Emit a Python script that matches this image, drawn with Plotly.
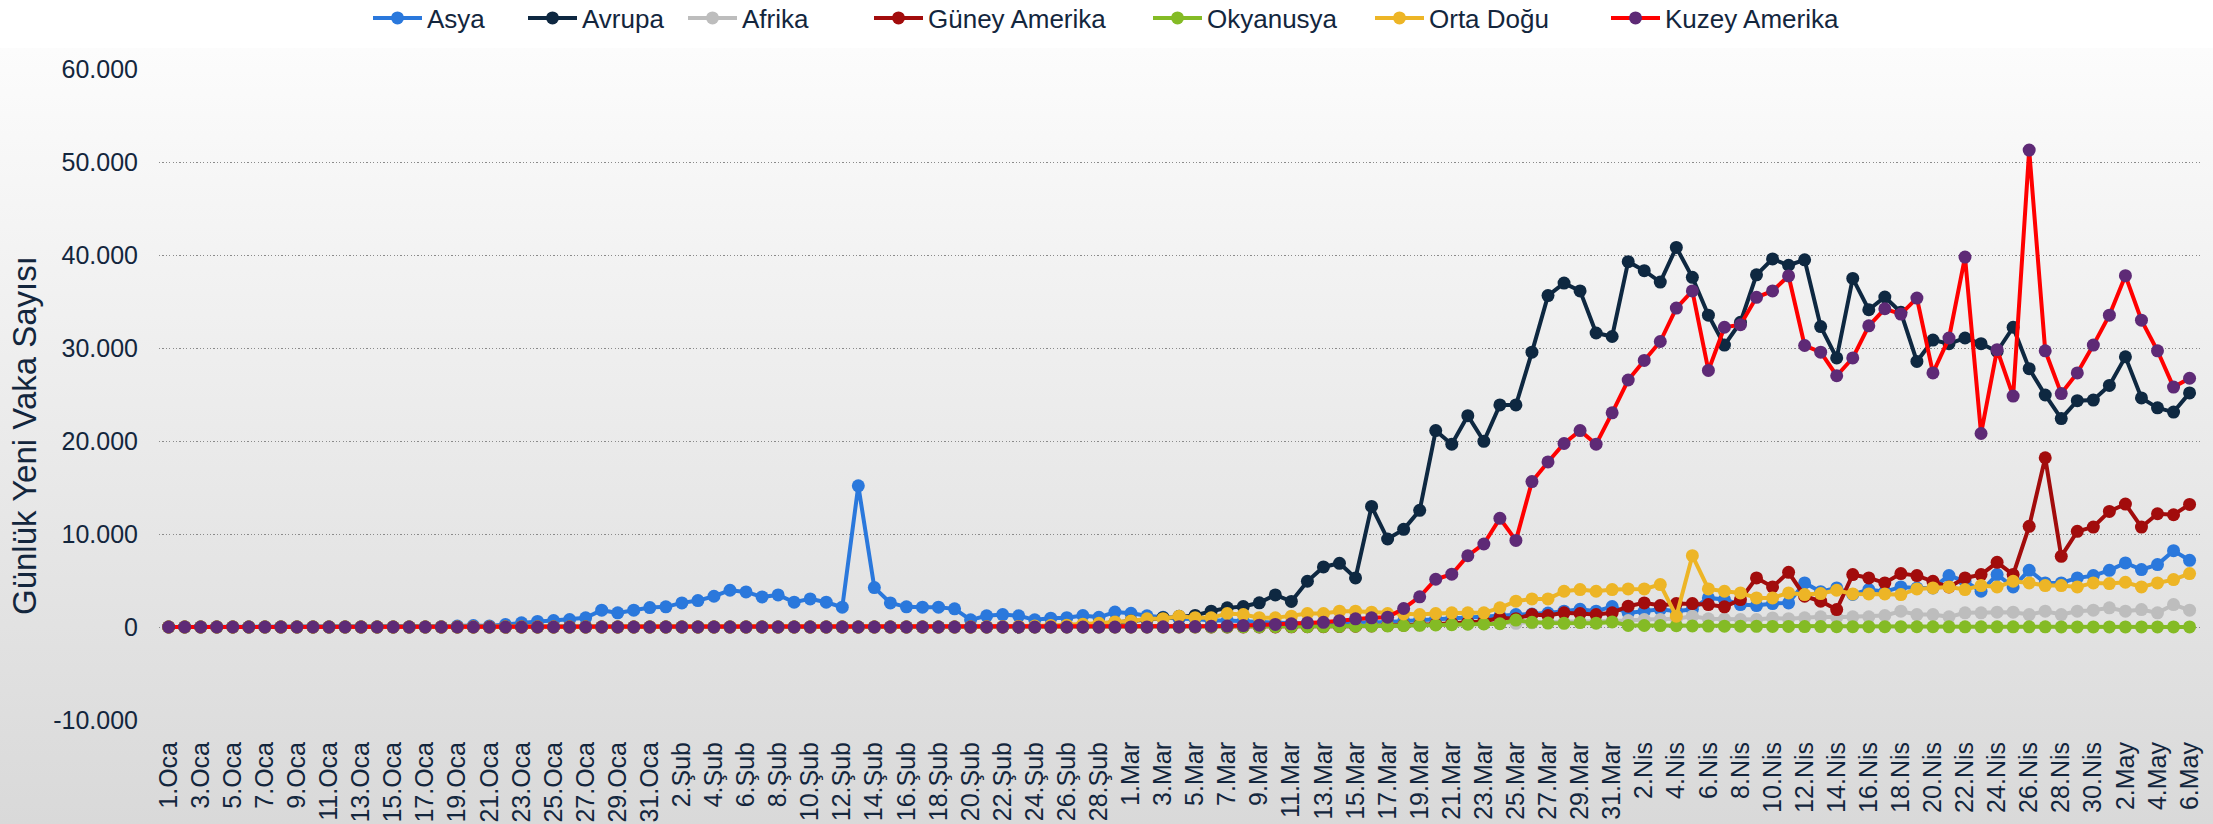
import base64
import plotly.graph_objects as go

# ---- categories (dates 1 Jan - 6 May) ----
month_names = ["Oca", "Şub", "Mar", "Nis", "May"]
month_days = [31, 29, 31, 30, 6]
dates = []
for m, n in zip(month_names, month_days):
    for d in range(1, n + 1):
        dates.append(f"{d}.{m}")

# ---- series (daily new cases) ----
asya = [0]*17 + [20, 100, 150, 120, 260, 450, 600, 700,
        805, 983, 1806, 1520, 1806, 2092, 2164, 2593, 2843, 3308, 3952, 3773, 3237, 3451, 2664, 3022, 2664, 2128,
        15184, 4239, 2593, 2164, 2128, 2128, 1950, 770, 1200, 1341, 1200, 770, 950, 1000, 1234, 1040, 1600, 1480,
        1200, 1040, 900, 850, 700, 700, 600, 500, 450, 400, 400, 400, 450, 450, 500, 550, 650, 750, 850, 900, 950,
        1100, 1200, 1341, 1400, 1500, 1700, 1900, 1700, 2200, 1500, 1700, 1900, 1700, 1900, 3130, 2951, 2414, 2307,
        2522, 2593, 4740, 3800, 4203, 3500, 4024, 3800, 4310, 4200, 4200, 5526, 4918, 3845, 5634, 4310, 6099, 4740,
        4740, 5276, 5526, 6099, 6886, 6170, 6707, 8208, 7170]

avrupa = [0]*54 + [20, 50, 100, 200, 350, 500, 650, 800, 1000, 1150, 1250, 1699, 2057, 2200, 2600, 3450, 2750,
          4918, 6456, 6850, 5276, 12966, 9461, 10500, 12550, 21117, 19657, 22726, 19969, 23874, 23874, 29550, 35634,
          36976, 36139, 31611, 31235, 39283, 38317, 37094, 40817, 37598, 33531, 30312, 32769, 37866, 39583, 38896,
          39476, 32308, 28928, 37480, 34111, 35484, 33842, 28553, 30849, 30462, 31074, 30462, 29626, 32233, 27780,
          24947, 22415, 24336, 24400, 25977, 29046, 24636, 23563, 23112, 25173]

afrika = [0]*61 + [5, 5, 10, 10, 15, 20, 25, 30, 40, 50, 60, 80, 90, 120, 150, 180, 200, 250, 280, 300, 330, 350,
          380, 400, 450, 480, 500, 550, 600, 650, 700, 800, 800, 900, 1160, 880, 850, 800, 800, 980, 900, 984, 1091,
          1050, 1091, 1091, 1234, 1699, 1341, 1341, 1091, 1520, 1520, 1592, 1592, 1341, 1699, 1341, 1699, 1806, 2057,
          1699, 1878, 1520, 2414, 1806]

guney_amerika = [0]*70 + [20, 30, 40, 60, 80, 120, 150, 200, 250, 300, 400, 500, 600, 1000, 900, 1341, 1234, 1520,
                 1449, 1341, 1520, 2236, 2593, 2307, 2522, 2522, 2414, 2164, 2951, 5276, 4310, 5884, 3309, 2772, 1878,
                 5634, 5276, 4740, 5741, 5526, 4918, 4300, 5276, 5634, 6957, 5634, 10820, 18198, 7601, 10284, 10749,
                 12430, 13219, 10749, 12180, 12072, 13181]

okyanusya = [0]*61 + [2, 3, 5, 5, 8, 10, 15, 20, 25, 30, 40, 50, 60, 80, 100, 120, 150, 180, 220, 250, 300, 320,
             350, 750, 500, 420, 400, 480, 410, 550, 170, 160, 150, 140, 120, 100, 90, 80, 70, 60, 60, 50, 50, 40, 40,
             30, 30, 30, 25, 25, 20, 20, 20, 20, 15, 15, 15, 10, 10, 10, 10, 10, 10, 10, 10, 10]

orta_dogu = [0]*50 + [10, 20, 40, 60, 100, 150, 200, 300, 400, 550, 650, 876, 900, 1163, 1000, 984, 1449, 1341, 1000,
             983, 1163, 1449, 1449, 1699, 1699, 1592, 1449, 1400, 1341, 1449, 1520, 1520, 1520, 2057, 2772, 3022, 3022,
             3845, 4024, 3845, 4024, 4096, 4096, 4561, 1163, 7673, 4096, 3845, 3666, 3130, 3130, 3666, 3488, 3595,
             3953, 3559, 3559, 3559, 3488, 4096, 4203, 4310, 4024, 4453, 4310, 4918, 4740, 4453, 4453, 4310, 4740,
             4668, 4811, 4310, 4740, 5097, 5741]

kuzey_amerika = [0]*60 + [5, 10, 20, 30, 50, 80, 100, 150, 200, 280, 340, 447, 500, 680, 876, 983, 1055, 1990, 3240,
                 5135, 5676, 7661, 8927, 11685, 9314, 15634, 17747, 19733, 21117, 19657, 23027, 26557, 28660, 30699,
                 34293, 36139, 27587, 32233, 32501, 35452, 36139, 37748, 30269, 29550, 27018, 28928, 32383, 34218,
                 33649, 35366, 27319, 31074, 39776, 20805, 29819, 24829, 51279, 29701, 25097, 27319, 30312, 33531,
                 37780, 32995, 29701, 25795, 26750]

y_tick_vals = [-10000, 0, 10000, 20000, 30000, 40000, 50000, 60000]
y_tick_text = ["-10.000", "0", "10.000", "20.000", "30.000", "40.000", "50.000", "60.000"]

series = [
    ("Asya", asya, "#2a78dc", "#2a78dc"),
    ("Avrupa", avrupa, "#0e2841", "#0e2841"),
    ("Afrika", afrika, "#bdbdbd", "#bdbdbd"),
    ("Güney Amerika", guney_amerika, "#a20c0c", "#a20c0c"),
    ("Okyanusya", okyanusya, "#84bb25", "#84bb25"),
    ("Orta Doğu", orta_dogu, "#edb526", "#edb526"),
    ("Kuzey Amerika", kuzey_amerika, "#ff0000", "#5e2a76"),
]
# legend entry left edges (px in the 2213-wide page)
legend_x_px = [374, 529, 689, 875, 1154, 1376, 1612]

FONT = "Liberation Sans, Arial, sans-serif"
TXT = "#13263d"
W, H = 2213, 824
ML, MR, MT, MB = 159, 13, 69, 104
pw, ph = W - ML - MR, H - MT - MB

fig = go.Figure()
legends = {}
for k, ((name, vals, lc, mc), lx) in enumerate(zip(series, legend_x_px)):
    lid = "legend" if k == 0 else f"legend{k+1}"
    fig.add_trace(go.Scatter(
        x=dates, y=vals, name=name, mode="lines+markers", legend=lid,
        line=dict(color=lc, width=4),
        marker=dict(color=mc, size=13, line=dict(width=0)),
    ))
    legends[lid] = dict(orientation="h", xref="container", yref="container",
                        x=(lx - 6) / W, xanchor="left", y=1 - 18 / H, yanchor="middle",
                        font=dict(size=26, color=TXT), itemwidth=49,
                        bgcolor="rgba(0,0,0,0)", borderwidth=0)

svg = f'''<svg xmlns="http://www.w3.org/2000/svg" width="{W}" height="{H}" viewBox="0 0 {W} {H}" preserveAspectRatio="none">
<defs><linearGradient id="g" x1="0" y1="0" x2="0" y2="1">
<stop offset="0" stop-color="#fcfcfc"/><stop offset="1" stop-color="#d9d9d9"/></linearGradient></defs>
<rect x="0" y="0" width="{W}" height="{H}" fill="#ffffff"/>
<rect x="0" y="48" width="{W}" height="{H-48}" fill="url(#g)"/></svg>'''
src = "data:image/svg+xml;base64," + base64.b64encode(svg.encode("utf-8")).decode("ascii")

fig.update_layout(
    width=W, height=H,
    margin=dict(l=ML, r=MR, t=MT, b=MB, pad=0, autoexpand=False),
    paper_bgcolor="#ffffff", plot_bgcolor="rgba(0,0,0,0)",
    font=dict(family=FONT, size=25, color=TXT),
    showlegend=True,
    images=[dict(source=src, xref="paper", yref="paper", x=-ML/pw, y=1 + MT/ph,
                 sizex=W/pw, sizey=H/ph, xanchor="left", yanchor="top",
                 sizing="stretch", layer="below")],
    xaxis=dict(type="category", categoryarray=dates, categoryorder="array", automargin=False,
               range=[-0.6, 126.65], tickmode="array", tickvals=dates[::2], ticktext=dates[::2],
               tickangle=-90, tickfont=dict(size=25, color=TXT), showgrid=False, zeroline=False,
               showline=False, ticks="", ticklabelstandoff=16),
    yaxis=dict(range=[-10000, 60000], tickmode="array", tickvals=y_tick_vals, ticktext=y_tick_text,
               automargin=False,
               tickfont=dict(size=25, color=TXT), showgrid=True, gridcolor="#8a8a8a", gridwidth=1.2,
               griddash="1.2px,2.2px", zeroline=False, showline=False, ticks="", ticklabelstandoff=20),
    annotations=[dict(text="Günlük Yeni Vaka Sayısı", textangle=-90, xref="paper", yref="paper",
                      x=(24 - ML)/pw, y=(H - MB - 436)/ph, xanchor="center", yanchor="middle",
                      showarrow=False, font=dict(size=33, color=TXT))],
    **legends,
)

fig.write_html("out.html", include_plotlyjs=True, full_html=True,
               config={"displayModeBar": False},
               post_script="document.body.style.margin='0';document.body.style.overflow='hidden';")
